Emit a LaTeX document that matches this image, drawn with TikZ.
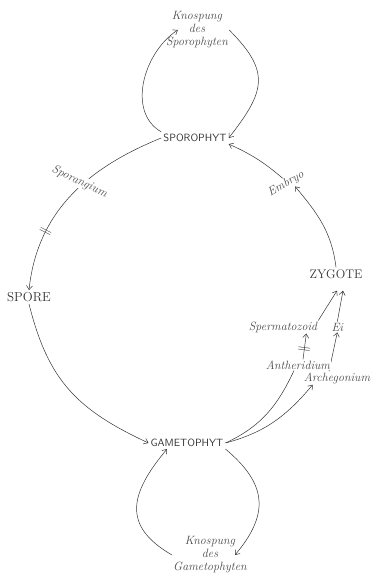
\documentclass[tikz,border=0pt]{standalone}
\usepackage{tikz}
\usetikzlibrary{
    arrows.meta,
    positioning,
    backgrounds
}
\definecolor{inkgray}{HTML}{333333}
\definecolor{pencilgray}{HTML}{4A4A4A}
\tikzset{
    stage/.style={
        inner sep=2pt, text=inkgray,
        font=\fontsize{10.5}{12}\selectfont\sffamily
    },
    stage serif/.style={
        inner sep=2pt, text=inkgray,
        font=\fontsize{13}{15}\selectfont
    },
    organ/.style={
        inner sep=1pt, text=pencilgray, align=center,
        font=\fontsize{12}{13}\selectfont\itshape
    },
    cycle flow/.style={
        -{Straight Barb[length=4pt, width=6pt]}, line width=0.5pt, color=inkgray
    },
    cycle line/.style={
        line width=0.5pt, color=inkgray
    },
    cut mark/.style={
        sloped, inner sep=0pt, font=\large, text=inkgray
    },
}

\begin{document}
\begin{tikzpicture}[x=1pt, y=1pt]
    \useasboundingbox (0,0) rectangle (373,575);

    % ── Stages of the cycle ──
    \node[stage] (spo) at (195,437) {SPOROPHYT};
    \node[stage serif] (spore) at (29,278) {SPORE};
    \node[stage] (gam) at (187,132) {GAMETOPHYT};
    \node[stage serif, font=\fontsize{12.5}{15}\selectfont] (zyg) at (336,301) {ZYGOTE};

    % ── Budding ──
    \node[organ] (knsp) at (197,545) {Knospung\\des\\Sporophyten};
    \node[organ] (kngam) at (210,20) {Knospung\\des\\Gametophyten};

    % ── Sexual organs ──
    \node[organ] (sperm) at (283,248) {Spermatozoid};
    \node[organ, right=12pt of sperm] (ei) {Ei};
    \node[organ, fill=white] (anth) at (298,210) {Antheridium};
    \node[organ] (arch) at (337,197) {Archegonium};
    \node[organ, rotate=30] (embryo) at (286,391) {Embryo};

    % ── Main cycle ──
    \draw[cycle flow] (spo.west) to[out=202, in=84]
        node[organ, pos=0.4, xshift=-6pt, rotate=-25, fill=white] (sporangium) {Sporangium}
        node[cut mark, pos=0.72] (cut1) {$\parallel$} (spore.north);
    \draw[cycle flow] (spore.south) to[out=-76, in=155, looseness=1.1] (gam.west);
    \draw[cycle flow] (zyg.north) to[out=97, in=-50] (embryo.-45);
    \draw[cycle flow] (embryo.north) to[bend right=8] (spo.south east);

    % ── Budding loops ──
    \draw[cycle flow] (spo.north west) to[out=150, in=213] ([xshift=13pt]knsp.west);
    \draw[cycle flow] (knsp.east) to[out=-45, in=52, looseness=1.4] (spo.east);
    \draw[cycle flow] (gam.south east) to[out=-40, in=50, looseness=1.3] ([xshift=-13pt]kngam.east);
    \draw[cycle flow] (kngam.west) to[out=150, in=-130, looseness=1.4] ([xshift=-20pt]gam.south);

    % ── Fertilisation ──
    \draw[cycle line] (gam.east) to[out=25, in=-115] ([xshift=-4pt]anth.south);
    \draw[cycle flow] (gam.east) to[out=15, in=-130] ([xshift=10pt]arch.south west);
    \draw[cycle flow] ([xshift=5pt]anth.north) --
        node[cut mark, pos=0.4] (cut2) {$\parallel$} ([xshift=-12pt]sperm.south east);
    \begin{scope}[on background layer]
        \draw[cycle flow] ([xshift=-8pt]arch.north) -- (ei.south);
    \end{scope}
    \draw[cycle flow] (sperm.north east) -- ([xshift=1pt, yshift=-10pt]zyg.south);
    \draw[cycle flow] (ei.north) -- ([xshift=7pt, yshift=-10pt]zyg.south);

\end{tikzpicture}
\end{document}
